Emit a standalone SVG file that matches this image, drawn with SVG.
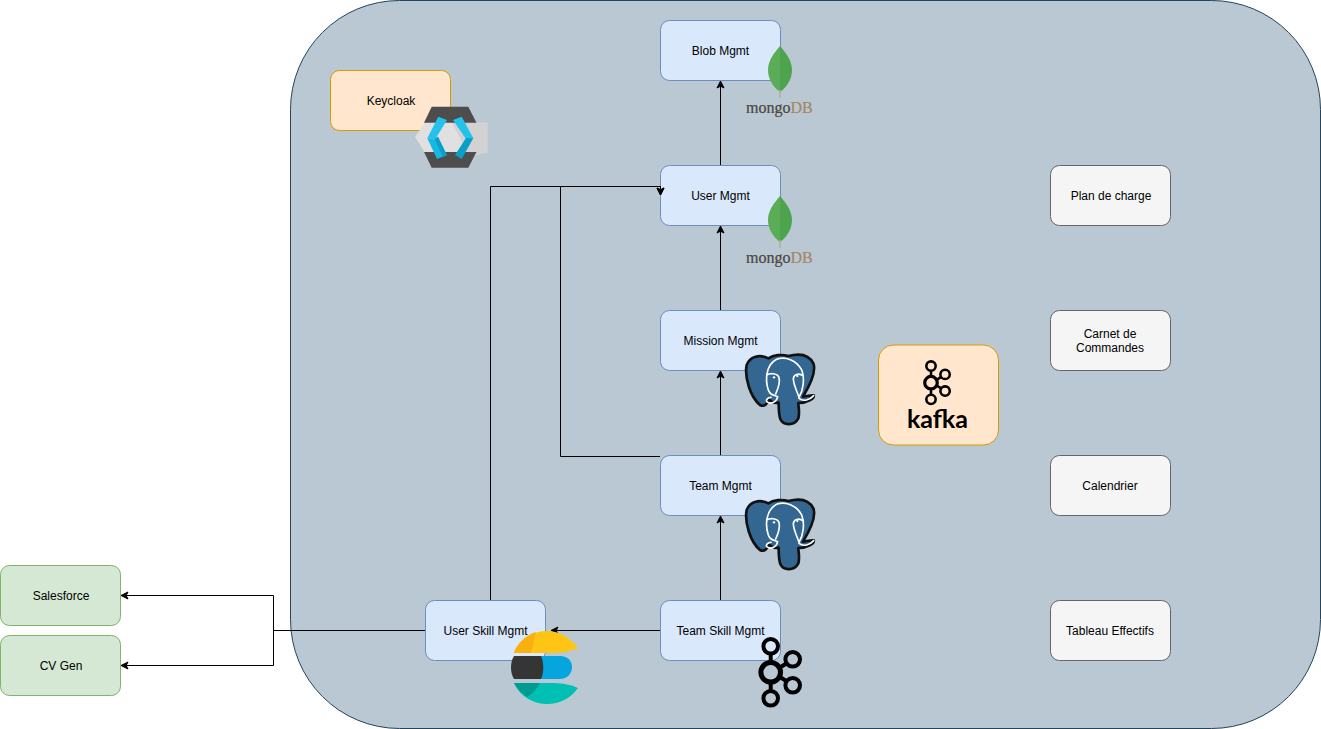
<svg xmlns="http://www.w3.org/2000/svg" width="1321" height="729" viewBox="0 0 1321 729">
<style>
text{font-family:"Liberation Sans",Arial,sans-serif;font-size:12px;fill:#000;text-anchor:middle}
.n rect{stroke-width:1}
.blue rect{fill:#dae8fc;stroke:#6c8ebf}
.gray rect{fill:#f5f5f5;stroke:#666}
.green rect{fill:#d5e8d4;stroke:#82b366}
.orange rect{fill:#ffe6cc;stroke:#d79b00}
.c{fill:none;stroke:#000;stroke-width:1;marker-end:url(#a)}
.k{fill:none;stroke:#000}
.wl{fill:none;stroke:#fff;stroke-width:5;stroke-linejoin:round;stroke-linecap:round}
.mt{font-family:"Liberation Serif",serif;font-size:16px;text-anchor:start;fill:#4a4541;stroke:#4a4541;stroke-width:.2}
.mt tspan{fill:#a58662;stroke:#a58662}
</style>
<defs>
<marker id="a" markerUnits="userSpaceOnUse" markerWidth="10" markerHeight="10" refX="8" refY="5" orient="auto">
<path d="M1,1.5L8,5L1,8.5L2.8,5Z" fill="#000" stroke="#000" stroke-width="1"/>
</marker>
<g id="leaf">
<path d="M780,92C772,86 768,78 768,70C768,60 775,52 780,46Z" fill="#5aad56"/>
<path d="M780,46C785,52 792,60 792,70C792,78 788,86 780,92Z" fill="#4da44e"/>
<path d="M780,90V98" stroke="#b8ad8c" stroke-width="1.5" fill="none"/>
<text class="mt" x="746" y="113">mongo<tspan>DB</tspan></text>
</g>
<g id="pg">
<g transform="translate(735,340) scale(.3333)">
<path d="M100,55C75,42 45,48 35,75C28,110 45,170 75,195C88,202 97,192 102,178C110,188 122,190 131,188C131,205 132,225 136,237C145,258 178,258 190,235C195,215 190,200 190,189C215,190 240,175 236,166C225,165 212,170 204,170C225,135 245,95 235,70C220,40 190,40 160,48C140,42 115,45 100,55Z" fill="#336791" stroke="#111" stroke-width="8" stroke-linejoin="round"/>
<path class="wl" d="M100,150C90,120 92,75 125,58C150,48 185,60 200,90C210,115 205,150 192,172M95,105C105,98 125,100 131,110C137,125 132,140 122,162M205,108C195,100 178,100 175,115C175,135 185,150 192,172M100,150C105,165 115,165 128,170C125,185 110,195 95,185C92,178 100,172 108,172M192,175C205,186 225,180 236,167"/>
<circle cx="117" cy="112" r="3.500" fill="#fff"/><circle cx="187" cy="108" r="3.500" fill="#fff"/>
</g>
</g>
<g id="kf">
<circle class="k" cx="0" cy="-26" r="7.3" stroke-width="4"/>
<circle class="k" cx="0" cy="0" r="9.8" stroke-width="5"/>
<circle class="k" cx="0" cy="26" r="7.3" stroke-width="4"/>
<circle class="k" cx="22" cy="-13" r="7.3" stroke-width="4"/>
<circle class="k" cx="22" cy="13" r="7.3" stroke-width="4"/>
<path class="k" stroke-width="4" d="M0,-19V-10M0,10V19M8,-4L16,-9M8,4L16,9"/>
</g>
</defs>

<g id="platform"><rect x="290.500" y="0.500" width="1030" height="728" rx="109" ry="109" fill="#bac8d3" stroke="#23445d"/></g>

<g id="blob" class="n blue"><rect x="660.500" y="20.500" width="120" height="60" rx="9"/><text x="720.500" y="55">Blob Mgmt</text></g>
<g id="user" class="n blue"><rect x="660.500" y="165.500" width="120" height="60" rx="9"/><text x="720.500" y="200">User Mgmt</text></g>
<g id="mission" class="n blue"><rect x="660.500" y="310.500" width="120" height="60" rx="9"/><text x="720.500" y="345">Mission Mgmt</text></g>
<g id="team" class="n blue"><rect x="660.500" y="455.500" width="120" height="60" rx="9"/><text x="720.500" y="490">Team Mgmt</text></g>
<g id="teamskill" class="n blue"><rect x="660.500" y="600.500" width="120" height="60" rx="9"/><text x="720.500" y="635">Team Skill Mgmt</text></g>
<g id="userskill" class="n blue"><rect x="425.500" y="600.500" width="120" height="60" rx="9"/><text x="485.500" y="635">User Skill Mgmt</text></g>
<g id="keycloak" class="n orange"><rect x="330.500" y="70.500" width="120" height="60" rx="9"/><text x="391" y="105">Keycloak</text></g>
<g id="kafka" class="n orange"><rect x="878.500" y="345" width="120" height="100" rx="15"/>
<use href="#kf" transform="translate(931,382.700) scale(.64)"/>
<text x="937.500" y="428" style="font-family:Lato,sans-serif;font-size:25px;font-weight:700">kafka</text></g>
<g id="plan" class="n gray"><rect x="1050.500" y="165.500" width="120" height="60" rx="9"/><text x="1111" y="200">Plan de charge</text></g>
<g id="carnet" class="n gray"><rect x="1050.500" y="310.500" width="120" height="60" rx="9"/><text x="1110" y="338">Carnet de</text><text x="1110" y="352">Commandes</text></g>
<g id="calendrier" class="n gray"><rect x="1050.500" y="455.500" width="120" height="60" rx="9"/><text x="1110" y="490">Calendrier</text></g>
<g id="tableau" class="n gray"><rect x="1050.500" y="600.500" width="120" height="60" rx="9"/><text x="1110" y="635">Tableau Effectifs</text></g>
<g id="salesforce" class="n green"><rect x="0.500" y="565.500" width="120" height="60" rx="9"/><text x="61" y="600">Salesforce</text></g>
<g id="cvgen" class="n green"><rect x="0.500" y="635.500" width="120" height="60" rx="9"/><text x="61" y="670">CV Gen</text></g>

<g id="connectors">
<path class="c" d="M720.500,165V81"/>
<path class="c" d="M720.500,310V226"/>
<path class="c" d="M720.500,455V371"/>
<path class="c" d="M720.500,600V516"/>
<path class="c" d="M490.500,600V186.500H660.500V195"/>
<path class="c" d="M660,456.500H560.500V186.500H660.500V195"/>
<path class="c" d="M660,630.500H551"/>
<path class="c" d="M425,630.500H273.500V595.500H121"/>
<path class="c" d="M425,630.500H273.500V665.500H121"/>
</g>

<g id="icons">
<use href="#leaf"/>
<use href="#leaf" y="150"/>
<use href="#pg"/>
<use href="#pg" y="145"/>
<use href="#kf" transform="translate(770.700,672.300)"/>
<g id="icon-keycloak">
<path d="M415,137L425,122.700H487.300V152.700H425Z" fill="#e0e0e0"/>
<path d="M452,122.700H487.300V152.700L470,157Z" fill="#d2d2d2"/>
<path d="M431.700,106.700H468.300L476.500,122.700H424Z" fill="#4d4d4d"/>
<path d="M424,152H476.500L468.300,167.700H431.700Z" fill="#4d4d4d"/>
<path d="M438.300,116.700L447,120L435,139.500L427.300,138.300Z" fill="#22c2ec"/>
<path d="M427.300,138.300L435,139.500L447,155L437,159Z" fill="#18b6e2"/>
<path d="M434.500,139L438,136.500L447,155L443,157Z" fill="#0a9fc6"/>
<path d="M453,120L461.700,116.700L473.300,138.300L466,139Z" fill="#22c2ec"/>
<path d="M466,138L473.300,138.300L461.700,159L455,155Z" fill="#0a9fc6"/>
</g>
<g id="icon-elastic">
<path d="M514,652C520,638 534,631 547,631C560,631 571,638 578,648C570,652 560,653 550,653H514Z" fill="#fec514"/>
<path d="M514,652C518,643 526,635 536,632L531,653H514Z" fill="#f9b110"/>
<path d="M541,656H560C568,656 572,661 572,667C572,674 567,679 560,679H541Z" fill="#07a5de"/>
<path d="M514,683H550C560,683 570,684 578,688C571,698 560,704 547,704C534,704 520,697 514,683Z" fill="#00bfb3"/>
<path d="M514,683H540C536,690 532,694 527,697C521,693 517,688 514,683Z" fill="#019b8f"/>
<path d="M514,656H541C544,662 544,673 541,679H514C510,673 510,662 514,656Z" fill="#353535"/>
</g>
</g>
</svg>
